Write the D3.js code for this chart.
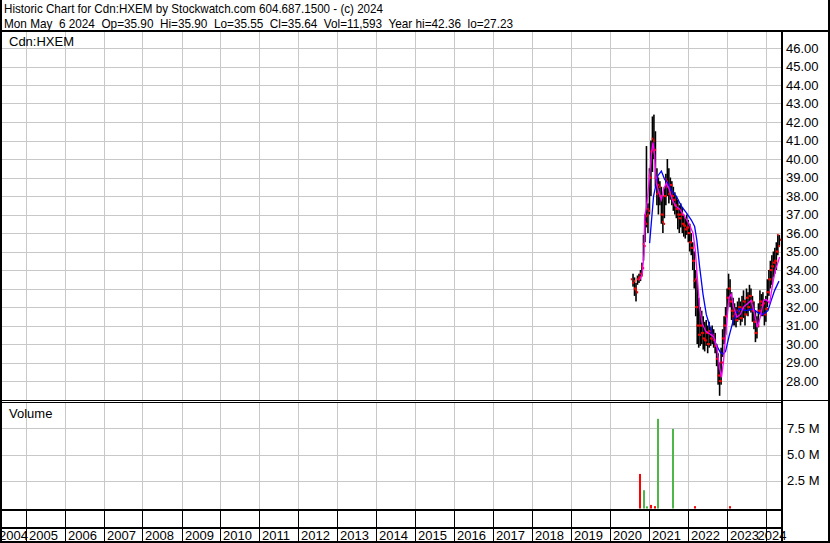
<!DOCTYPE html>
<html><head><meta charset="utf-8">
<script src="https://cdn.jsdelivr.net/npm/d3@7"></script>
<style>
html,body{margin:0;padding:0;background:#fff;}
svg{display:block;}
text{font-family:"Liberation Sans",Arial,sans-serif;font-size:13px;fill:#000;white-space:pre;}
</style></head><body>
<svg id="c" width="830" height="543"></svg>
<script>
// ---------------- data ----------------
const headerLines = [
  "Historic Chart for Cdn:HXEM by Stockwatch.com 604.687.1500 - (c) 2024",
  "Mon May  6 2024  Op=35.90  Hi=35.90  Lo=35.55  Cl=35.64  Vol=11,593  Year hi=42.36  lo=27.23"
];
const symbolLabel = "Cdn:HXEM";
const volumeLabel = "Volume";
const priceTicks = [28,29,30,31,32,33,34,35,36,37,38,39,40,41,42,43,44,45,46];
const volumeTicks = [2500000,5000000,7500000];
const volumeTickLabels = ["2.5 M","5.0 M","7.5 M"];
const yearLabels = [2004,2005,2006,2007,2008,2009,2010,2011,2012,2013,2014,2015,2016,2017,2018,2019,2020,2021,2022,2023,2024];

// bi-weekly bars starting 2020-08-03
const barStart = "2020-08-03";
const barStepDays = 14;
const opens = [33.5,33.3,33.0,32.9,33.5,33.6,33.8,34.2,35.4,36.6,
  36.9,37.3,39.1,40.4,41.1,40.4,39.0,38.1,38.6,38.0,
  37.0,36.6,38.0,38.9,38.5,38.1,38.6,38.0,37.8,37.5,
  37.3,37.0,36.8,37.0,36.5,36.4,36.2,36.3,36.0,35.5,
  35.2,34.5,33.4,32.0,31.0,30.5,31.0,30.6,30.3,30.2,
  30.6,30.0,30.7,30.3,30.5,30.2,29.9,29.2,28.3,28.0,
  29.0,30.3,31.0,31.5,32.5,33.0,32.3,31.8,31.5,31.6,
  31.3,31.8,32.0,31.4,31.9,32.3,31.6,32.5,32.0,32.6,
  32.3,31.8,31.2,30.6,31.0,31.8,32.3,32.1,32.2,31.6,
  31.9,32.8,33.5,34.0,34.2,34.4,34.5,35.0,35.9];
const highs = [33.8,33.6,33.3,33.7,33.8,34.0,34.4,35.9,37.0,40.7,
  37.6,39.5,41.0,42.3,42.4,41.5,39.5,39.0,38.8,38.5,
  38.0,38.5,39.2,40.0,39.5,39.0,38.8,38.5,38.2,38.0,
  37.8,37.5,37.6,37.4,37.0,36.8,37.0,36.7,36.5,36.0,
  35.5,35.0,34.0,33.5,32.5,32.0,31.8,31.5,31.2,31.3,
  31.0,31.2,30.9,31.0,30.8,30.6,30.0,29.5,29.0,29.8,
  30.8,31.5,32.0,33.0,33.8,33.5,32.8,32.5,32.2,32.0,
  32.3,32.5,32.3,32.6,32.9,32.4,33.0,32.8,33.2,33.0,
  32.6,32.3,31.8,31.5,32.2,32.9,32.7,32.8,32.4,32.6,
  33.5,34.0,34.5,34.8,35.0,35.2,35.5,35.9,35.9];
const lows = [33.1,32.6,32.3,33.2,33.3,33.4,33.7,34.5,35.5,36.3,
  36.0,37.0,38.0,39.3,40.0,38.5,37.5,37.0,37.5,36.5,
  36.0,36.8,37.5,38.0,37.6,37.8,37.5,37.2,37.0,36.8,
  36.2,36.0,36.3,36.0,35.8,35.7,35.9,35.5,35.0,34.8,
  34.0,33.0,31.5,30.0,29.8,29.9,30.0,29.7,29.6,29.9,
  29.5,29.8,29.9,30.0,29.8,29.5,28.8,27.8,27.2,27.8,
  29.3,30.0,30.5,31.5,32.2,32.0,31.3,31.0,31.0,30.9,
  31.2,31.3,31.0,31.2,31.4,31.0,31.6,31.5,31.8,31.7,
  31.2,30.8,30.1,30.3,30.9,31.6,31.5,31.5,31.0,31.2,
  32.0,32.6,33.0,33.2,33.6,33.8,34.0,34.8,35.3];
const closes = [33.4,33.0,32.8,33.5,33.6,33.7,34.1,35.3,36.5,37.0,
  37.2,39.0,40.5,41.0,40.5,39.0,38.2,38.5,38.0,37.0,
  36.5,38.0,38.8,38.5,38.2,38.6,38.0,37.8,37.5,37.3,
  37.0,36.8,37.0,36.5,36.4,36.2,36.3,36.0,35.5,35.2,
  34.5,33.5,32.0,31.0,30.5,31.0,30.6,30.3,30.2,30.6,
  30.0,30.7,30.3,30.5,30.2,29.9,29.2,28.3,28.0,29.0,
  30.3,31.0,31.5,32.5,33.0,32.3,31.8,31.5,31.6,31.3,
  31.8,32.0,31.4,31.9,32.3,31.6,32.5,32.0,32.6,32.3,
  31.8,31.2,30.6,31.0,31.8,32.3,32.1,32.2,31.6,31.9,
  32.8,33.5,34.0,34.2,34.4,34.5,35.0,35.3,35.64];

// short moving average (magenta), positions in bar units
const magentaAt = [4.5,6.3,7.5,7.9,9.0,10.8,12.4,13.5,14.6,15.7,17.5,19.1,20.6,22.4,24.2,26.4,28.7,31.3,34.7,37.6,40.3,41.8,43.2,44.7,46.5,48.8,51.4,54.1,56.3,58.1,59.4,60.8,62.6,64.4,65.9,67.5,69.7,72.0,74.2,77.1,79.3,81.6,83.4,85.4,87.6,89.4,91.6,93.4,95.4,97.2,98.3];
const magentaVal = [33.45,33.8,34.9,36.9,37.3,38.7,40.2,40.9,40.2,38.7,38.2,37.8,38.35,38.7,38.4,37.8,37.45,37.3,36.9,36.5,36.0,35.1,33.6,32.0,31.1,30.7,30.55,30.4,29.8,28.7,28.2,29.1,30.9,32.5,32.7,32.0,31.45,31.6,32.0,32.2,32.36,31.6,30.9,31.45,32.36,32.4,32.2,33.1,34.0,34.4,34.7];
// long moving average (blue)
const blueAt = [11.25,13.9,16.8,19.1,21.3,23.5,25.8,29.1,32.5,35.8,39.2,41.4,42.9,44.7,47.0,49.2,52.5,55.9,58.6,60.4,62.1,64.4,66.7,68.8,71.5,76.0,80.4,83.8,87.1,90.5,92.7,95.0,97.9];
const blueVal = [35.45,38.0,39.1,39.35,38.9,38.7,38.3,38.0,37.45,37.1,36.7,36.35,35.6,34.2,32.7,31.6,30.7,29.95,29.55,29.45,29.6,30.4,31.1,31.6,31.9,31.8,31.9,31.7,31.6,31.8,32.36,32.9,33.4];

// volume
const volDates = ["2020-10-12","2020-11-18","2020-12-10","2021-01-23","2021-02-24","2021-03-24","2021-08-17","2022-03-05","2023-01-27"];
const volValues = [3150000,1600000,60000,200000,80000,8400000,7440000,80000,80000];
const volUp = [false,true,true,false,false,true,true,false,false];

// ---------------- drawing ----------------
const svg = d3.select("#c");
const parse = d3.utcParse("%Y-%m-%d");
const t0 = parse(barStart).getTime();
const dateAt = i => new Date(t0 + i*barStepDays*86400000);

const x = d3.scaleUtc().domain([new Date(Date.UTC(2005,0,1)), new Date(Date.UTC(2024,0,1))]).range([25.7,765.7]);
const y = d3.scaleLinear().domain([28,46]).range([381,48]);
const yv = d3.scaleLinear().domain([0,7500000]).range([507,428.3]);

const plotL = 2, plotR = 781;
const priceTop = 32, priceBot = 400, volTop = 403, volBot = 509;

svg.append("rect").attr("width",830).attr("height",543).attr("fill","#fff");

const grid = svg.append("g").attr("stroke","#c8c8c8").attr("stroke-width",1).attr("shape-rendering","crispEdges");
const yearBounds = yearLabels.slice(1).map(yr => new Date(Date.UTC(yr,0,1)));
const gx = d => Math.round(x(d)) + 0.5;
yearBounds.forEach(d => {
  grid.append("line").attr("x1",gx(d)).attr("x2",gx(d)).attr("y1",priceTop).attr("y2",priceBot);
  grid.append("line").attr("x1",gx(d)).attr("x2",gx(d)).attr("y1",volTop).attr("y2",volBot);
});
priceTicks.forEach(t => {
  const yy = Math.round(y(t)) + 0.5;
  grid.append("line").attr("x1",plotL).attr("x2",plotR).attr("y1",yy).attr("y2",yy);
});
volumeTicks.forEach(t => {
  const yy = Math.round(yv(t)) + 0.5;
  grid.append("line").attr("x1",plotL).attr("x2",plotR).attr("y1",yy).attr("y2",yy);
});

// price bars
const bars = svg.append("g");
highs.forEach((h,i) => {
  const xi = x(dateAt(i));
  bars.append("rect").attr("x",xi-0.6).attr("width",1.6)
    .attr("y",y(h)).attr("height",Math.max(1,y(lows[i])-y(h))).attr("fill","#000");
});
const ticks = svg.append("g").attr("fill","#ff0000");
opens.forEach((o,i) => {
  const xi = x(dateAt(i));
  ticks.append("rect").attr("x",xi-2.0).attr("width",1.5)
    .attr("y",y(o)-1).attr("height",2);
});
closes.forEach((c,i) => {
  const xi = x(dateAt(i));
  ticks.append("rect").attr("x",xi+0.8).attr("width",1.6)
    .attr("y",y(c)-1).attr("height",2.2);
});

const line = d3.line().x(d => x(dateAt(d[0]))).y(d => y(d[1]));
svg.append("path").datum(blueAt.map((a,i)=>[a,blueVal[i]]))
  .attr("d",line).attr("fill","none").attr("stroke","#0000ff").attr("stroke-width",1.3);
svg.append("path").datum(magentaAt.map((a,i)=>[a,magentaVal[i]]))
  .attr("d",line).attr("fill","none").attr("stroke","#ff00ff").attr("stroke-width",1.3);

// volume bars
volDates.forEach((ds,i) => {
  const xi = Math.round(x(parse(ds)));
  const top = Math.min(yv(volValues[i]), 507);
  svg.append("rect").attr("x",xi-1).attr("width",2)
    .attr("y",top).attr("height",Math.max(1,508.5-top))
    .attr("fill", volUp[i] ? "#4db848" : "#ff0000");
});

// texts
svg.append("text").attr("x",4).attr("y",13).attr("textLength",379).attr("lengthAdjust","spacingAndGlyphs").text(headerLines[0]);
svg.append("text").attr("x",4).attr("y",28).attr("textLength",509).attr("lengthAdjust","spacingAndGlyphs").text(headerLines[1]);
svg.append("text").attr("x",9).attr("y",46).text(symbolLabel);
svg.append("text").attr("x",9).attr("y",418).text(volumeLabel);

priceTicks.forEach(t => {
  svg.append("text").attr("x",786).attr("y",y(t)+4.7).text(d3.format(".2f")(t));
});
volumeTicks.forEach((t,i) => {
  svg.append("text").attr("x",787).attr("y",yv(t)+4.7).text(volumeTickLabels[i]);
});

// year labels
yearLabels.forEach((yr,i) => {
  let lx;
  if (i === 0) lx = -1;
  else lx = Math.round(x(new Date(Date.UTC(yr,0,1)))) + 3;
  if (yr === 2024) lx = 757.5;
  svg.append("text").attr("x",lx).attr("y",539.5).text(String(yr));
});

// borders / separators
const blk = svg.append("g").attr("fill","#000").attr("shape-rendering","crispEdges");
blk.append("rect").attr("x",0).attr("y",0).attr("width",2).attr("height",543);
blk.append("rect").attr("x",828).attr("y",0).attr("width",2).attr("height",543);
blk.append("rect").attr("x",0).attr("y",30).attr("width",830).attr("height",2);
blk.append("rect").attr("x",781).attr("y",30).attr("width",2).attr("height",513);
blk.append("rect").attr("x",0).attr("y",400).attr("width",830).attr("height",1);
blk.append("rect").attr("x",0).attr("y",402).attr("width",781).attr("height",1);
blk.append("rect").attr("x",0).attr("y",509).attr("width",781).attr("height",2);
blk.append("rect").attr("x",0).attr("y",527).attr("width",781).attr("height",1.5);
blk.append("rect").attr("x",0).attr("y",541).attr("width",830).attr("height",2);
yearBounds.forEach(d => {
  blk.append("rect").attr("x",Math.round(x(d))).attr("y",511).attr("width",1).attr("height",30);
});
</script></body></html>
